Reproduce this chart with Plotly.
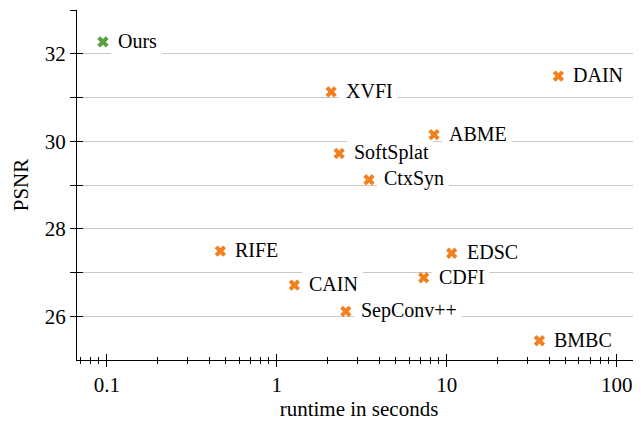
import math
import plotly.graph_objects as go

methods = ["Ours", "XVFI", "DAIN", "ABME", "SoftSplat", "CtxSyn", "RIFE", "CAIN",
           "SepConv++", "EDSC", "CDFI", "BMBC"]
runtime = [0.095, 2.09, 45.4, 8.42, 2.33, 3.49, 0.466, 1.27, 2.55, 10.7, 7.32, 35.1]
psnr = [32.27, 31.13, 31.49, 30.15, 29.72, 29.12, 27.49, 26.71, 26.11, 27.44, 26.88, 25.44]

x_major = [0.1, 1, 10, 100]
x_major_text = ["0.1", "1", "10", "100"]
x_minor = [0.07, 0.08, 0.09] + [m * 0.1 for m in range(2, 10)] + list(range(2, 10)) \
    + [m * 10 for m in range(2, 10)]
y_ticks = [26, 27, 28, 29, 30, 31, 32]
y_tick_text = ["26", "", "28", "", "30", "", "32"]
y_cap = [33]

ORANGE = "#F3801F"
GREEN = "#5A9F40"
SERIF = "Liberation Serif, Times New Roman, serif"
LABEL_SIZE = 20

# Times / Liberation Serif advance widths (1/1000 em) for estimating label boxes
CHAR_W = {"O": 722, "u": 500, "r": 333, "s": 389, "X": 722, "V": 722, "F": 556,
          "I": 333, "D": 722, "A": 722, "N": 722, "B": 667, "M": 889, "E": 611,
          "S": 556, "o": 500, "f": 333, "t": 278, "p": 500, "l": 278, "a": 444,
          "C": 667, "x": 500, "y": 500, "n": 500, "R": 667, "e": 444, "v": 500,
          "+": 564}


def text_width(s, size):
    return sum(CHAR_W.get(c, 500) for c in s) * size / 1000.0


fig = go.Figure()
colors = [GREEN if m == "Ours" else ORANGE for m in methods]
fig.add_trace(go.Scatter(
    x=runtime, y=psnr, mode="markers",
    marker=dict(symbol="x", size=10, color=colors, line=dict(width=0)),
    showlegend=False, hoverinfo="skip"))
# companion empty trace on overlay axes (for ticks crossing the axis lines)
fig.add_trace(go.Scatter(x=[], y=[], xaxis="x2", yaxis="y2", showlegend=False))

TEXT_GAP = 14
PAD = 6
HALF_H = 16
for m, xv, yv in zip(methods, runtime, psnr):
    w = text_width(m, LABEL_SIZE)
    # white label background: above gridlines, below markers
    fig.add_shape(type="rect", layer="between", xref="x", yref="y",
                  xsizemode="pixel", ysizemode="pixel", xanchor=xv, yanchor=yv,
                  x0=TEXT_GAP - PAD, x1=TEXT_GAP + w + PAD, y0=-HALF_H, y1=HALF_H,
                  fillcolor="white", line=dict(width=0))
    fig.add_annotation(x=math.log10(xv), y=yv, xref="x", yref="y", text=m,
                       showarrow=False, xanchor="left", yanchor="middle",
                       xshift=TEXT_GAP, yshift=1, borderpad=0,
                       font=dict(family=SERIF, size=LABEL_SIZE, color="black"))

xr = [-1.175, 2.143]
yr = [25, 33]
common_x = dict(type="log", range=xr, showline=True, linecolor="black", linewidth=1,
                zeroline=False, showgrid=False, automargin=False)
common_y = dict(range=yr, showline=True, linecolor="black", linewidth=1,
                zeroline=False, gridcolor="#c8c8c8", gridwidth=1, automargin=False)

# page body has an 8px margin: shrink the figure accordingly
fig.update_layout(
    width=633, height=413,
    margin=dict(l=69, r=0, t=2, b=61, autoexpand=False),
    plot_bgcolor="white", paper_bgcolor="white",
    font=dict(family=SERIF, size=21, color="black"),
    xaxis=dict(**common_x, tickmode="array", tickvals=x_major, ticktext=x_major_text,
               ticks="outside", ticklen=6, tickwidth=1, tickcolor="black",
               minor=dict(tickmode="array", tickvals=x_minor, ticks="outside",
                          ticklen=3, tickwidth=1, tickcolor="black", showgrid=False),
               title=dict(text="runtime in seconds", standoff=7,
                          font=dict(family=SERIF, size=21)),
               tickfont=dict(family=SERIF, size=21)),
    xaxis2=dict(**common_x, overlaying="x", anchor="y", side="bottom",
                tickmode="array", tickvals=x_major, showticklabels=False,
                ticks="inside", ticklen=6, tickwidth=1, tickcolor="black",
                minor=dict(tickmode="array", tickvals=x_minor, ticks="inside",
                           ticklen=3, tickwidth=1, tickcolor="black", showgrid=False)),
    yaxis=dict(**common_y, tickmode="array", tickvals=y_ticks, ticktext=y_tick_text,
               showgrid=True, ticks="outside", ticklen=6, tickwidth=1, tickcolor="black",
               minor=dict(tickmode="array", tickvals=y_cap, ticks="outside",
                          ticklen=6, tickwidth=1, tickcolor="black", showgrid=False),
               title=dict(text="PSNR", standoff=10, font=dict(family=SERIF, size=21)),
               tickfont=dict(family=SERIF, size=21)),
    yaxis2=dict(range=yr, overlaying="y", anchor="x", side="left", showline=False,
                zeroline=False, showgrid=False, showticklabels=False, automargin=False,
                tickmode="array", tickvals=y_ticks + y_cap,
                ticks="inside", ticklen=6, tickwidth=1, tickcolor="black"),
)

fig.write_html("out.html")
